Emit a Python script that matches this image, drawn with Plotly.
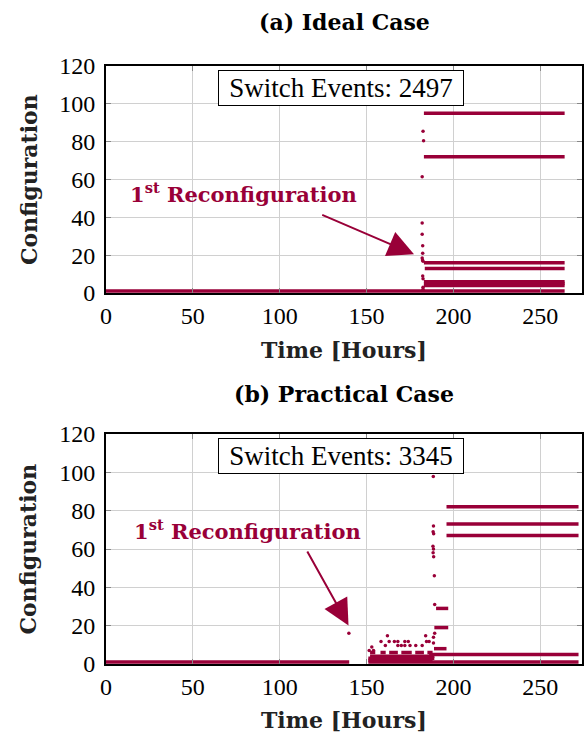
import plotly.graph_objects as go

# ---------------- data ----------------
# (a) Ideal case: horizontal runs of a configuration (start hour, end hour, configuration)
ideal_seg_start = [0, 183, 183, 183, 183.5, 183, 183, 183]
ideal_seg_end = [264, 264, 264, 264, 264, 264, 264, 264]
ideal_seg_cfg = [1, 95, 72, 16, 13, 6, 5, 4]
# isolated switch events
ideal_pt_time = [182.5, 182.8, 182.0, 182.0, 182.0, 182.3, 182.3, 182.0, 182.2, 182.5, 182.3, 182.5, 182.5, 182.5]
ideal_pt_cfg = [85.5, 80.5, 61.5, 37, 31, 25, 21, 18.5, 17.5, 16.8, 9, 7.5, 3, 2]

# (b) Practical case
prac_seg_start = [0, 151, 151, 152, 151, 186, 188.8, 189, 190, 196, 196, 196,
                  152, 158, 163, 170, 178, 185]
prac_seg_end = [140, 272, 189, 189, 188, 272, 196, 197, 197, 272, 272, 272,
                155, 161, 168, 176, 183, 188]
prac_seg_cfg = [1, 1, 3, 4, 2, 5, 8, 19, 29, 82, 73, 67,
                6, 6, 6, 6, 6, 6]
prac_pt_time = [139.8, 162, 184, 158.3, 163, 166, 168, 172, 174, 184.5, 186,
                160.8, 168, 170, 172, 175, 178.3, 182, 153, 151.5, 154,
                188.4, 188.5, 188.3, 188.6, 188.2, 188.5, 188.3, 188.6, 189.0,
                189.2, 189.2, 188.5, 188.5]
prac_pt_cfg = [16, 14.8, 14.8, 11.8, 11.8, 11.8, 11.8, 11.8, 11.8, 11.8, 11.8,
               9.7, 9.7, 9.7, 9.7, 9.7, 9.7, 9.7, 8.9, 7, 7,
               97.8, 72, 69, 68, 61.5, 60, 58, 56, 46,
               31, 16, 14, 11]

switch_events = [2497, 3345]
panel_titles = ["(a) Ideal Case", "(b) Practical Case"]
x_ticks = [0, 50, 100, 150, 200, 250]
y_ticks = [0, 20, 40, 60, 80, 100, 120]

# ---------------- styling ----------------
RED = "#990038"
FONT = "Liberation Serif"
BOLD_FONT = "DejaVu Serif"


def seg_xy(x0s, x1s, ys):
    xs, yv = [], []
    for a, b, c in zip(x0s, x1s, ys):
        xs += [a, b, None]
        yv += [c, c, None]
    return xs, yv


fig = go.Figure()

panels = [
    (ideal_seg_start, ideal_seg_end, ideal_seg_cfg, ideal_pt_time, ideal_pt_cfg, "x", "y"),
    (prac_seg_start, prac_seg_end, prac_seg_cfg, prac_pt_time, prac_pt_cfg, "x2", "y2"),
]
for s0, s1, sc, pt, pc, xa, ya in panels:
    xs, ys = seg_xy(s0, s1, sc)
    fig.add_trace(go.Scatter(x=xs, y=ys, mode="lines", line=dict(color=RED, width=3.5),
                             xaxis=xa, yaxis=ya, showlegend=False, hoverinfo="skip"))
    fig.add_trace(go.Scatter(x=pt, y=pc, mode="markers", marker=dict(color=RED, size=3.5),
                             xaxis=xa, yaxis=ya, showlegend=False))

axis_common = dict(
    showline=True, linecolor="black", linewidth=2, mirror="ticks",
    showgrid=True, gridcolor="#d0d0d0", gridwidth=1,
    ticks="inside", ticklen=5, tickcolor="#888888", tickwidth=1,
    zeroline=False,
    tickfont=dict(family=FONT, size=24, color="black"),
)

fig.update_layout(
    width=586, height=735,
    margin=dict(l=106, r=2, t=66, b=71),
    plot_bgcolor="white", paper_bgcolor="white",
    xaxis=dict(domain=[0, 1], range=[0, 274], tickvals=x_ticks, anchor="y", **axis_common),
    yaxis=dict(domain=[0.6204, 1.0], range=[0, 120], tickvals=y_ticks, anchor="x",
               ticklabelstandoff=4, **axis_common),
    xaxis2=dict(domain=[0, 1], range=[0, 274], tickvals=x_ticks, anchor="y2", **axis_common),
    yaxis2=dict(domain=[0, 0.3846], range=[0, 120], tickvals=y_ticks, anchor="x2",
                ticklabelstandoff=4, **axis_common),
)

ann = []
# panel titles, axis titles
title_y = [1.0736, 0.4515]
xt_y = [0.5251, -0.0936]
cfg_y = [0.8102, 0.1923]
for i in range(2):
    ann.append(dict(text="<b>%s</b>" % panel_titles[i], xref="paper", yref="paper",
                    x=0.5, y=title_y[i], showarrow=False, xanchor="center", yanchor="middle",
                    font=dict(family=BOLD_FONT, size=22, color="black")))
    ann.append(dict(text="<b>Time [Hours]</b>", xref="paper", yref="paper",
                    x=0.5, y=xt_y[i], showarrow=False, xanchor="center", yanchor="middle",
                    font=dict(family=BOLD_FONT, size=22, color="#222222")))
    ann.append(dict(text="<b>Configuration</b>", xref="paper", yref="paper",
                    x=-0.163, y=cfg_y[i], showarrow=False, xanchor="center", yanchor="middle",
                    textangle=-90, font=dict(family=BOLD_FONT, size=22, color="#222222")))

# switch-event boxes
for xa, ya, n in [("x", "y", switch_events[0]), ("x2", "y2", switch_events[1])]:
    ann.append(dict(text="Switch Events: %d" % n, xref=xa, yref=ya, x=135, y=108.3,
                    showarrow=False, xanchor="center", yanchor="middle",
                    bgcolor="white", bordercolor="black", borderwidth=1, borderpad=4,
                    width=236, height=26,
                    font=dict(family=FONT, size=27, color="black")))

# first reconfiguration labels + arrows
labels = [("x", "y", 79.4, 52.7, 177.3, 20.5, 123.6, 41.6),
          ("x2", "y2", 81.4, 70.0, 139.6, 20.1, 115.4, 59.5)]
for xa, ya, lx, ly, tx, ty, ax, ay in labels:
    ann.append(dict(text="<b>1<sup>st</sup> Reconfiguration</b>", xref=xa, yref=ya,
                    x=lx, y=ly, showarrow=False, xanchor="center", yanchor="middle",
                    font=dict(family=BOLD_FONT, size=21, color=RED)))
    ann.append(dict(text="", xref=xa, yref=ya, x=tx, y=ty, axref=xa, ayref=ya, ax=ax, ay=ay,
                    showarrow=True, arrowhead=2, arrowsize=2.6, arrowwidth=2, arrowcolor=RED))

fig.update_layout(annotations=ann)
fig.write_html("out.html")
